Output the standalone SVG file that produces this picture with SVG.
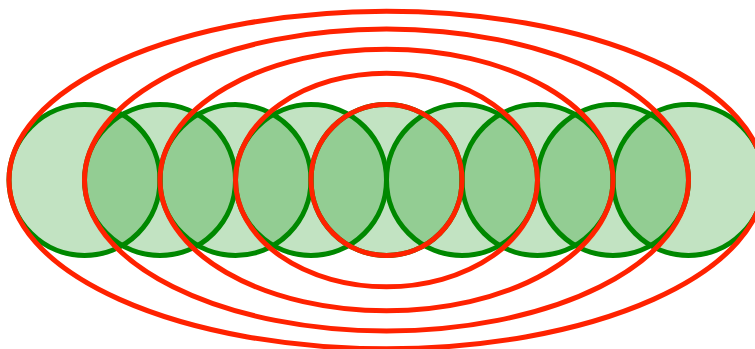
<svg xmlns="http://www.w3.org/2000/svg" width="755" height="349" viewBox="0 0 755 349">
<style>
.c{fill:#008800;fill-opacity:0.24;stroke:#008800;stroke-width:5}
.e{fill:none;stroke:#ff2200;stroke-width:5}
</style>
<rect width="755" height="349" fill="#ffffff"/>
<g id="circles">
<circle id="c0" class="c" cx="84.5" cy="180" r="75.5"/>
<circle id="c1" class="c" cx="160" cy="180" r="75.5"/>
<circle id="c2" class="c" cx="235.5" cy="180" r="75.5"/>
<circle id="c3" class="c" cx="311" cy="180" r="75.5"/>
<circle id="c4" class="c" cx="386.5" cy="180" r="75.5"/>
<circle id="c5" class="c" cx="462" cy="180" r="75.5"/>
<circle id="c6" class="c" cx="537.5" cy="180" r="75.5"/>
<circle id="c7" class="c" cx="613" cy="180" r="75.5"/>
<circle id="c8" class="c" cx="688.5" cy="180" r="75.5"/>
</g>
<g id="ellipses">
<ellipse id="e1" class="e" cx="386.5" cy="180" rx="75.5" ry="75.5"/>
<ellipse id="e2" class="e" cx="386.5" cy="180" rx="151" ry="106.8"/>
<ellipse id="e3" class="e" cx="386.5" cy="180" rx="226.5" ry="130.8"/>
<ellipse id="e4" class="e" cx="386.5" cy="180" rx="302" ry="151"/>
<ellipse id="e5" class="e" cx="386.5" cy="180" rx="377.5" ry="168.8"/>
</g>
</svg>
